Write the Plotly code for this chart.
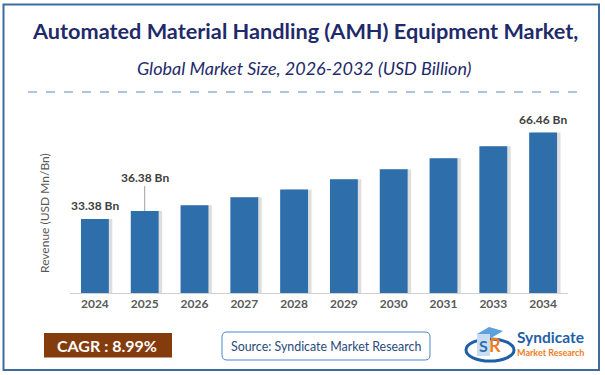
import plotly.graph_objects as go

# ---- data ----
years = ["2024", "2025", "2026", "2027", "2028", "2029", "2030", "2031", "2033", "2034"]
revenue = [33.38, 36.38, 38.6, 41.7, 44.7, 48.6, 52.4, 56.6, 61.2, 66.46]
label_idx = [0, 1, 9]
labels = ["33.38 Bn", "36.38 Bn", "66.46 Bn"]
title = "Automated Material Handling (AMH) Equipment Market,"
subtitle = "Global Market Size, 2026-2032 (USD Billion)"
cagr_text = "CAGR : 8.99%"
source_text = "Source: Syndicate Market Research"

W, H = 605, 375
def fx(x): return x / W
def fy(y): return 1 - y / H

BAR = "#2E6EAB"
FONT = "Lato"

fig = go.Figure()
bw = 0.56
# shadow
fig.add_trace(go.Bar(x=years, y=revenue, width=bw, offset=-bw / 2 + 0.07,
                     marker=dict(color="rgba(0,0,0,0.13)", line=dict(width=0)),
                     hoverinfo="skip", showlegend=False))
fig.add_trace(go.Bar(x=years, y=revenue, width=bw, offset=-bw / 2,
                     marker=dict(color=BAR, line=dict(width=0)), showlegend=False))

ann = []
# data labels (x given as category index)
for i, t in zip(label_idx, labels):
    if i == 1:
        ann.append(dict(x=i, y=revenue[i], xref="x", yref="y", text=t,
                        showarrow=True, arrowhead=0, arrowwidth=1, arrowcolor="#A0A0A0",
                        ax=0, ay=-34, font=dict(family=FONT, size=12, color="#404040", weight="bold")))
    else:
        ann.append(dict(x=i, y=revenue[i], xref="x", yref="y", text=t,
                        showarrow=False, yshift=13, xanchor="center", yanchor="middle",
                        font=dict(family=FONT, size=12, color="#404040", weight="bold")))

def pann(x, y, text, font, xanchor="center", **kw):
    d = dict(x=fx(x), y=fy(y), xref="paper", yref="paper", text=text, showarrow=False,
             xanchor=xanchor, yanchor="middle", font=font, borderpad=0)
    d.update(kw)
    ann.append(d)

pann(305, 31, title, dict(family=FONT, size=21.7, color="#1F2A6B", weight="bold"))
pann(304, 68, subtitle, dict(family=FONT, size=18, color="#1F2A6B", style="italic"))
pann(45, 213, "Revenue (USD Mn/Bn)", dict(family=FONT, size=12, color="#595959"), textangle=-90)
pann(107, 345.5, cagr_text, dict(family=FONT, size=16, color="white", weight="bold"))
pann(326, 346, source_text, dict(family=FONT, size=12.4, color="#2A4A7A"))
pann(516, 336.5, "Syndicate", dict(family=FONT, size=15.5, color="#1F5FA8", weight="bold"), xanchor="left")
pann(516, 352, "Market Research", dict(family=FONT, size=9, color="#EE7D1E", weight="bold"), xanchor="left")
pann(483, 345, "S", dict(family=FONT, size=16, color="#2E6EAB", weight="bold"))
pann(495, 345, "R", dict(family=FONT, size=18, color="#EE7D1E", weight="bold"))

def rounded(x0, y0, x1, y1, r):
    X0, X1 = fx(x0), fx(x1)
    Y0, Y1 = fy(y0), fy(y1)
    rx, ry = r / W, r / H
    return (f"M {X0+rx},{Y0} L {X1-rx},{Y0} Q {X1},{Y0} {X1},{Y0-ry} "
            f"L {X1},{Y1+ry} Q {X1},{Y1} {X1-rx},{Y1} L {X0+rx},{Y1} "
            f"Q {X0},{Y1} {X0},{Y1+ry} L {X0},{Y0-ry} Q {X0},{Y0} {X0+rx},{Y0} Z")

shapes = [
    dict(type="rect", xref="paper", yref="paper", x0=fx(3.5), x1=fx(599), y0=fy(4.5), y1=fy(370),
         line=dict(color="#3D6C9C", width=2), fillcolor="rgba(0,0,0,0)", layer="below"),
    dict(type="line", xref="paper", yref="paper", x0=fx(28), x1=fx(579), y0=fy(92), y1=fy(92),
         line=dict(color="#5B8AC6", width=1, dash="dash")),
    dict(type="rect", xref="paper", yref="paper", x0=fx(44), x1=fx(172), y0=fy(333), y1=fy(357.5),
         line=dict(width=0), fillcolor="#843C0C", layer="below"),
    dict(type="path", xref="paper", yref="paper", path=rounded(222, 332, 430, 360, 5),
         line=dict(color="#4A86C8", width=1), fillcolor="white", layer="below"),
    dict(type="circle", xref="paper", yref="paper", x0=fx(466), x1=fx(514), y0=fy(339), y1=fy(361),
         line=dict(color="#1F5FA8", width=3), fillcolor="rgba(0,0,0,0)", layer="below"),
    dict(type="path", xref="paper", yref="paper",
         path=f"M {fx(477)},{fy(334)} L {fx(489)},{fy(327)} L {fx(503)},{fy(331)} L {fx(491)},{fy(338)} Z",
         line=dict(width=0), fillcolor="#5DA0DC", layer="below"),
    dict(type="rect", xref="paper", yref="paper", x0=fx(477), x1=fx(490), y0=fy(334), y1=fy(356),
         line=dict(width=0), fillcolor="#C9DDF2", layer="below"),
]

fig.update_layout(
    width=W, height=H, margin=dict(l=0, r=0, t=0, b=0),
    paper_bgcolor="white", plot_bgcolor="white",
    barmode="overlay",
    font=dict(family=FONT),
    xaxis=dict(domain=[fx(70), fx(568)], type="category", categoryorder="array",
               categoryarray=years, range=[-0.5, len(years) - 0.5], autorange=False,
               showgrid=False, showline=True, linecolor="#D0D0D0", linewidth=1, ticks="",
               tickfont=dict(family=FONT, size=12, color="#595959", weight="bold"),
               fixedrange=True),
    yaxis=dict(domain=[fy(293), fy(100)], range=[5, 5 + 193 / 2.61], autorange=False, visible=False,
               showgrid=False, zeroline=False, fixedrange=True),
    annotations=ann, shapes=shapes, showlegend=False,
)

fig.write_html("out.html", config={"displayModeBar": False},
               post_script="document.body.style.margin='0';document.body.style.overflow='hidden';")
